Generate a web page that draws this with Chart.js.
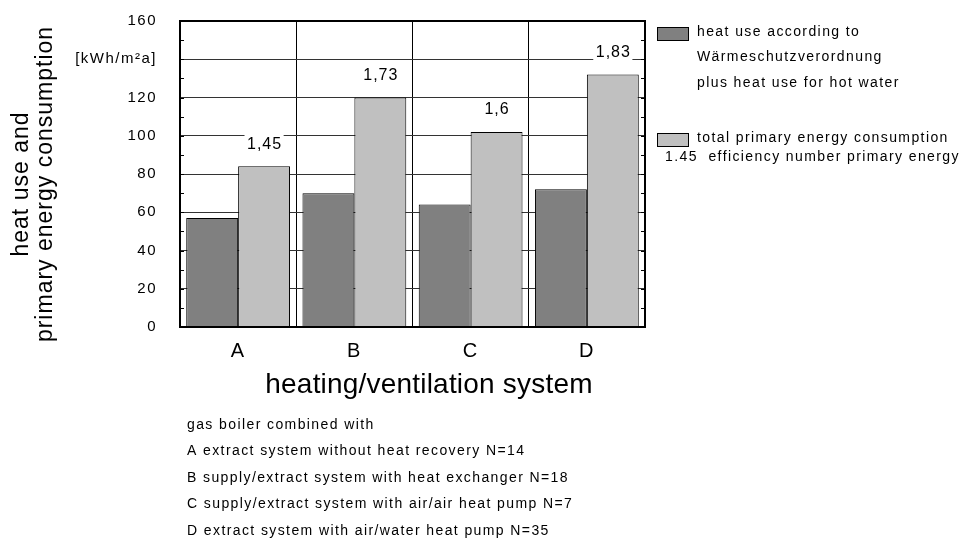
<!DOCTYPE html>
<html>
<head>
<meta charset="utf-8">
<script src="https://cdn.jsdelivr.net/npm/chart.js@4.4.1/dist/chart.umd.min.js"></script>
<style>
html, body { margin: 0; padding: 0; background: #fff; }
#wrap { width: 959px; height: 539px; }
</style>
</head>
<body>
<div id="wrap"><canvas id="energyChart" width="959" height="539"></canvas></div>
<script>
// values
const systems = ['A', 'B', 'C', 'D'];
const heatUse = [57, 70, 64, 72];
const primaryEnergy = [84, 120, 102, 132];
const efficiency = ['1,45', '1,73', '1,6', '1,83'];
const unitLabel = '[kWh/m²a]';
const yTitle = ['heat use and', 'primary energy consumption'];
const xTitle = 'heating/ventilation system';
const legendHeat = ['heat use according to', 'Wärmeschutzverordnung', 'plus heat use for hot water'];
const legendPrimary = 'total primary energy consumption';
const legendEfficiency = '1.45  efficiency number primary energy';
const notes = [
    'gas boiler combined with',
    'A extract system without heat recovery N=14',
    'B supply/extract system with heat exchanger N=18',
    'C supply/extract system with air/air heat pump N=7',
    'D extract system with air/water heat pump N=35'
];

const darkGrey = '#808080';
const lightGrey = '#c0c0c0';
const FONT = 'Arial, "Liberation Sans", sans-serif';

const decorations = {
    id: 'decorations',
    beforeDraw(chart) {
        // the tick labels in the original are slightly spaced out
        chart.ctx.letterSpacing = '1.5px';
    },
    afterDatasetsDraw(chart) {
        const ctx = chart.ctx;
        const area = chart.chartArea;
        const y = chart.scales.y;
        ctx.save();
        // small ticks every 10 on left and right edge
        ctx.strokeStyle = '#000';
        ctx.lineWidth = 1;
        for (let v = 0; v <= 160; v += 10) {
            const py = Math.round(y.getPixelForValue(v)) + 0.5;
            ctx.beginPath();
            ctx.moveTo(area.left, py);
            ctx.lineTo(area.left + 4, py);
            ctx.moveTo(area.right - 4, py);
            ctx.lineTo(area.right, py);
            ctx.stroke();
        }
        // frame
        ctx.lineWidth = 2;
        ctx.strokeRect(area.left, area.top, area.right - area.left, area.bottom - area.top);

        // efficiency numbers above the light bars
        ctx.font = '16px ' + FONT;
        ctx.letterSpacing = '1px';
        ctx.textAlign = 'center';
        ctx.textBaseline = 'middle';
        chart.getDatasetMeta(1).data.forEach((bar, i) => {
            const ty = bar.y - 22;
            const w = ctx.measureText(efficiency[i]).width + 4;
            ctx.fillStyle = '#fff';
            ctx.fillRect(bar.x - w / 2, ty - 10, w, 20);
            ctx.fillStyle = '#000';
            ctx.fillText(efficiency[i], bar.x + 0.5, ty);
        });
        ctx.restore();
    },
    afterDraw(chart) {
        const ctx = chart.ctx;
        ctx.save();
        ctx.fillStyle = '#000';
        ctx.textBaseline = 'middle';

        // y title
        ctx.save();
        ctx.translate(22, 184);
        ctx.rotate(-Math.PI / 2);
        ctx.font = '23px ' + FONT;
        ctx.letterSpacing = '1px';
        ctx.textAlign = 'center';
        ctx.fillText(yTitle[0], 0, 0);
        ctx.fillText(yTitle[1], 0, 24);
        ctx.restore();

        // x title
        ctx.font = '28px ' + FONT;
        ctx.letterSpacing = '0.2px';
        ctx.textAlign = 'center';
        ctx.fillText(xTitle, 429, 385);

        // legend
        ctx.font = '14px ' + FONT;
        ctx.letterSpacing = '1.4px';
        ctx.textAlign = 'left';
        ctx.lineWidth = 1;
        ctx.strokeStyle = '#000';
        ctx.fillStyle = darkGrey;
        ctx.fillRect(657.5, 27.5, 31, 13);
        ctx.strokeRect(657.5, 27.5, 31, 13);
        ctx.fillStyle = lightGrey;
        ctx.fillRect(657.5, 133.5, 31, 13);
        ctx.strokeRect(657.5, 133.5, 31, 13);
        ctx.fillStyle = '#000';
        legendHeat.forEach((t, i) => ctx.fillText(t, 697, 32 + i * 25.5));
        ctx.fillText(legendPrimary, 697, 138);
        ctx.fillText(legendEfficiency, 665, 157);

        // explanation below the chart
        notes.forEach((t, i) => ctx.fillText(t, 187, 425 + i * 26.5));
        ctx.restore();
    }
};

const ctx = document.getElementById('energyChart').getContext('2d');
const energyChart = new Chart(ctx, {
    type: 'bar',
    data: {
        labels: systems,
        datasets: [{
            label: 'heat use according to Wärmeschutzverordnung plus heat use for hot water',
            data: heatUse,
            backgroundColor: darkGrey,
            borderColor: '#000',
            borderWidth: 1
        }, {
            label: legendPrimary,
            data: primaryEnergy,
            backgroundColor: lightGrey,
            borderColor: '#000',
            borderWidth: 1
        }]
    },
    options: {
        responsive: false,
        animation: false,
        devicePixelRatio: 1,
        layout: {
            padding: { top: 21, right: 314, bottom: 0, left: 0 }
        },
        datasets: {
            bar: { categoryPercentage: 0.893, barPercentage: 1 }
        },
        plugins: {
            legend: { display: false },
            tooltip: { enabled: false }
        },
        scales: {
            x: {
                afterFit: (scale) => {
                    scale.height = 212;
                    scale.paddingLeft = 0;
                    scale.paddingRight = 0;
                },
                grid: { color: '#000', lineWidth: 1, drawTicks: false },
                border: { display: false },
                ticks: {
                    color: '#000',
                    padding: 12,
                    font: { family: FONT, size: 20 }
                }
            },
            y: {
                min: 0,
                max: 160,
                afterFit: (scale) => {
                    scale.width = 180;
                    scale.paddingTop = 0;
                    scale.paddingBottom = 0;
                },
                grid: { color: '#333', lineWidth: 1, drawTicks: false },
                border: { display: false },
                ticks: {
                    stepSize: 20,
                    color: '#000',
                    padding: 23,
                    font: { family: FONT, size: 15 },
                    callback: (v) => v === 140 ? unitLabel : v
                }
            }
        }
    },
    plugins: [decorations]
});
</script>
</body>
</html>
